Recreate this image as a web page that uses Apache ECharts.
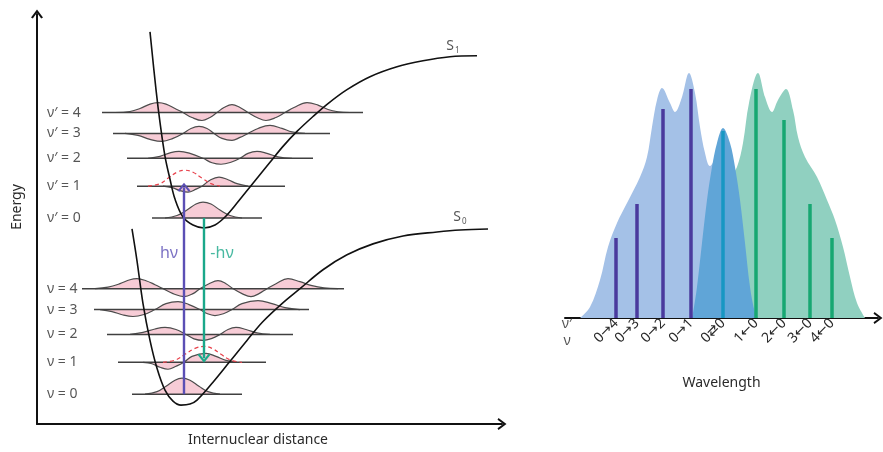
<!DOCTYPE html>
<html><head><meta charset="utf-8">
<script src="https://cdn.jsdelivr.net/npm/echarts@6/dist/echarts.min.js"></script>
<style>html,body{margin:0;padding:0;background:#fff}#c{width:883px;height:452px}</style>
</head><body><div id="c"></div>
<script>
// ---------- Left panel: potential energy curves [internuclear distance, energy] ----------
const s1Curve = [[113,394],[119,336],[123,303],[128,269],[133,246],[138,226],[146,208],[156,200],[167,197],[178,200],[188,208],[200,222],[216,242],[233,263],[246,279],[260,294],[276,309],[291,322],[310,336],[333,349],[360,359],[386,365],[413,369],[440,370]];
const s0Curve = [[95,196],[100,164],[106,121],[113,84],[120,56],[128,34],[136,23],[144,19],[153,20],[160,24],[176,42],[193,63],[210,84],[226,103],[245,121],[263,136],[286,155],[310,170],[336,181],[366,189],[400,193],[423,195],[451,196]];

// vibrational levels (v'=4..0 and v=4..0)
const excitedNames = ['ν′ = 4', 'ν′ = 3', 'ν′ = 2', 'ν′ = 1', 'ν′ = 0'];
const excitedEnergy = [313, 292, 267, 239, 207];
const excitedSpan = [[65, 326], [76, 293], [90, 276], [100, 248], [115, 225]];
const groundNames = ['ν = 4', 'ν = 3', 'ν = 2', 'ν = 1', 'ν = 0'];
const groundEnergy = [136, 115, 90, 62, 30];
const groundSpan = [[45, 307], [57, 272], [70, 256], [81, 229], [95, 205]];

// vibrational wavefunctions [distance, amplitude about the level]
const psiUp4 = [[78,0],[93,1],[103,4],[113,8.5],[121,10],[129,8.5],[138,4],[146,0],[155,-5],[165,-8],[173,-5],[180,0],[187,5],[195,8],[203,5],[211,0],[220,-5],[229,-8],[239,-5],[248,0],[257,5],[270,10],[281,7.5],[291,3],[301,0.8],[313,0]];
const psiUp3 = [[88,0],[101,-2],[113,-6],[125,-8],[136,-5],[146,0],[154,5],[162,7],[170,5],[177,0],[185,-5],[195,-7],[203,-4],[211,0],[221,5],[233,8],[245,5],[255,1.5],[268,0]];
const psiUp2 = [[111,0],[123,2],[133,5.5],[142,7],[153,5],[166,0],[175,-4.5],[184,-6],[194,-4],[203,0],[211,5],[220,7],[230,5],[241,1.5],[255,0]];
const psiUp1 = [[126,0],[135,-1.5],[143,-4.5],[151,-6],[159,-3],[165,0],[173,6],[182,9],[191,6.5],[200,2.5],[211,0]];
const psiUp0 = [[128,0],[140,2.5],[150,8],[159,14],[166,16],[174,14],[183,8],[193,2.5],[205,0]];
const psiLo4 = [[58,0],[71,1.5],[83,5],[93,9],[100,10],[109,8],[118,4],[126,0],[136,-5],[147,-8],[156,-5],[163,0],[172,5],[181,8],[189,5],[196,0],[205,-5],[214,-8],[222,-5],[230,0],[239,5],[251,10],[263,7],[275,3],[287,0.8],[301,0]];
const psiLo3 = [[63,0],[75,-2],[86,-5.5],[96,-7],[107,-5],[118,0],[129,6],[141,8],[152,5],[163,0],[170,-4],[178,-6],[187,-4],[195,0],[205,6],[221,9],[235,6],[248,2],[263,0]];
const psiLo2 = [[93,0],[106,2],[118,5.5],[128,7],[139,5],[149,0],[157,-4.5],[166,-6],[175,-4],[183,0],[191,5],[199,7],[209,5],[220,1.5],[233,0]];
const psiLo1 = [[106,0],[115,-1.5],[123,-5],[131,-7],[139,-4],[147,0],[155,6],[169,9],[179,6],[189,2],[200,0]];
const psiLo0 = [[108,0],[120,2.5],[129,8],[138,14],[145,16],[153,14],[162,8],[171,2.5],[183,0]];
// Franck-Condon projections (dashed)
const fcUp1 = [[111,0],[123,2.5],[131,8],[140,14],[148,16],[156,14],[165,8],[174,2.5],[183,0]];
const fcLo1 = [[126,0],[139,2.5],[148,8],[158,14],[167,16],[175,14],[184,8],[193,2.5],[205,0]];

const absorptionArrow = [[147, 30], [147, 238]];
const emissionArrow = [[167, 207], [167, 66]];
const photonLabels = ['hν', '-hν'];
const photonLabelPos = [[132, 171], [185, 171]];
const stateNames = ['1', '0'];
const stateLabelPos = [[416, 380], [423, 208]];

// ---------- Right panel: spectrum [wavelength, intensity] ----------
const transitions = ['0→4', '0→3', '0→2', '0→1', '0⇄0', '1←0', '2←0', '3←0', '4←0'];
const transitionPos = [51, 72, 98, 126, 158, 191, 219, 245, 267];
const transitionIntensity = [80, 114, 209, 229, 187, 229, 198, 114, 80];
const absorptionEnvelope = [[15,0],[25,11],[35,38],[43,71],[52,95],[62,115],[75,141],[82,161],[87,191],[92,218],[97,230],[105,215],[110,206],[117,221],[124,245],[130,225],[135,191],[140,165],[145,152],[152,160],[160,140],[166,0]];
const emissionEnvelope = [[158,120],[165,140],[172,151],[178,175],[184,215],[193,245],[200,221],[207,206],[213,218],[221,229],[228,208],[233,181],[240,161],[252,141],[262,118],[270,98],[278,71],[285,41],[292,15],[300,0]];
const originBand = [[127,0],[128,5],[132,31],[137,75],[142,118],[147,151],[152,175],[158,190],[165,175],[170,151],[175,118],[180,75],[185,31],[190,5],[193,0]];
const quantumRowLabels = ['ν′', 'ν'];
const quantumRowPos = [[2, -6], [2, -23]];

// ---------- styles ----------
const FONT = '"Noto Sans", "DejaVu Sans", sans-serif';
const TXT = '#2a2a2a';
const chevron = 'path://M0,8 L6,0 L12,8 L10.2,9 L6,3.2 L1.8,9 Z';
const purple = '#5b4fb5', green = '#1aa88a';

const series = [];
const L = { xAxisIndex: 0, yAxisIndex: 0 };
const R = { xAxisIndex: 1, yAxisIndex: 1 };

function wave(pts, E) {
  series.push(Object.assign({
    type: 'line', data: pts.map(p => [p[0], E + p[1]]), smooth: 0.4, symbol: 'none',
    lineStyle: { color: '#4d4d4d', width: 1.2 },
    areaStyle: { color: '#f7ccd6', opacity: 1, origin: E }, silent: true, z: 1
  }, L));
}
const upWaves = [psiUp4, psiUp3, psiUp2, psiUp1, psiUp0];
const loWaves = [psiLo4, psiLo3, psiLo2, psiLo1, psiLo0];
upWaves.forEach((w, i) => wave(w, excitedEnergy[i]));
loWaves.forEach((w, i) => wave(w, groundEnergy[i]));

function level(span, E) {
  series.push(Object.assign({
    type: 'line', data: [[span[0], E], [span[1], E]], symbol: 'none',
    lineStyle: { color: '#404040', width: 1.5 }, silent: true, z: 2
  }, L));
}
excitedSpan.forEach((s, i) => level(s, excitedEnergy[i]));
groundSpan.forEach((s, i) => level(s, groundEnergy[i]));

[fcUp1, fcLo1].forEach((pts, k) => {
  const E = k === 0 ? excitedEnergy[3] : groundEnergy[3];
  series.push(Object.assign({
    type: 'line', data: pts.map(p => [p[0], E + p[1]]), smooth: 0.4, symbol: 'none',
    lineStyle: { color: '#e8424c', width: 1.2, type: [4, 3] }, silent: true, z: 3
  }, L));
});

[s1Curve, s0Curve].forEach((c) => {
  series.push(Object.assign({
    type: 'line', data: c, smooth: 0.35, symbol: 'none',
    lineStyle: { color: '#111', width: 1.6 }, silent: true, z: 3
  }, L));
});

function arrow(pts, color, rot) {
  series.push(Object.assign({
    type: 'line', silent: true, z: 4,
    data: [{ value: pts[0], symbol: 'none' }, { value: pts[1], symbol: chevron, symbolSize: [13, 9], symbolRotate: rot }],
    showSymbol: true, lineStyle: { color: color, width: 2.4 },
    itemStyle: { color: color, borderWidth: 0 }
  }, L));
}
arrow(absorptionArrow, purple, 0);
arrow(emissionArrow, green, 180);

// text annotations left
const levelLabelData = excitedNames.map((n, i) => ({ value: [10, excitedEnergy[i]], label: { formatter: n } }))
  .concat(groundNames.map((n, i) => ({ value: [10, groundEnergy[i]], label: { formatter: n } })));
series.push(Object.assign({
  type: 'scatter', symbolSize: 0, silent: true, z: 5, clip: false, data: levelLabelData,
  label: { show: true, position: 'right', distance: 0, fontFamily: FONT, fontSize: 14, color: TXT }
}, L));
series.push(Object.assign({
  type: 'scatter', symbolSize: 0, silent: true, z: 5, clip: false,
  data: photonLabels.map((t, i) => ({ value: photonLabelPos[i], label: { formatter: t, color: i === 0 ? purple : green } })),
  label: { show: true, position: 'inside', fontFamily: FONT, fontSize: 16 }
}, L));
series.push(Object.assign({
  type: 'scatter', symbolSize: 0, silent: true, z: 5, clip: false,
  data: stateNames.map((t, i) => ({ value: stateLabelPos[i], label: { formatter: '{a|S}{b|' + t + '}' } })),
  label: { show: true, position: 'inside', fontFamily: FONT,
    rich: { a: { fontSize: 14, color: TXT, fontFamily: FONT }, b: { fontSize: 8, color: TXT, fontFamily: FONT, padding: [9, 0, 0, 1] } } }
}, L));

// right panel
const envStyle = (data, color) => Object.assign({
  type: 'line', data: data, smooth: 0.35, symbol: 'none', lineStyle: { width: 0 },
  areaStyle: { color: color, opacity: 1 }, silent: true, z: 1
}, R);
series.push(envStyle(absorptionEnvelope, '#a4c1e7'));
series.push(envStyle(emissionEnvelope, '#90d0c0'));
series.push(envStyle(originBand, '#60a5d7'));
const barColors = transitions.map((t, i) => i < 4 ? '#4a3a9d' : (i === 4 ? '#1797c3' : '#17a772'));
transitionPos.forEach((x, i) => {
  series.push(Object.assign({
    type: 'line', symbol: 'none', silent: true, z: 3,
    data: [[x, 0], [x, transitionIntensity[i]]],
    lineStyle: { color: barColors[i], width: 3.5, cap: 'butt' }
  }, R));
});
series.push(Object.assign({
  type: 'scatter', symbolSize: 0, silent: true, clip: false, z: 5,
  data: quantumRowLabels.map((t, i) => ({ value: quantumRowPos[i], label: { formatter: t } })),
  label: { show: true, position: 'inside', fontFamily: FONT, fontSize: 14, color: TXT }
}, R));

const axisLineStyle = { show: true, symbol: ['none', chevron], symbolSize: [12, 9], lineStyle: { color: '#111', width: 2 } };
const option = {
  animation: false,
  backgroundColor: '#fff',
  textStyle: { fontFamily: FONT },
  grid: [
    { left: 37, top: 14, width: 465, height: 412 },
    { left: 565, top: 68, width: 313, height: 250 }
  ],
  xAxis: [
    { type: 'value', gridIndex: 0, min: 0, max: 465, axisLine: axisLineStyle, axisTick: { show: false },
      axisLabel: { show: false }, splitLine: { show: false },
      name: 'Internuclear distance', nameLocation: 'middle', nameGap: 9,
      nameTextStyle: { fontFamily: FONT, fontSize: 14, color: TXT, padding: [0, 23, 0, 0] } },
    { type: 'value', gridIndex: 1, min: 0, max: 313, axisLine: axisLineStyle, axisTick: { show: false },
      splitLine: { show: false },
      axisLabel: { customValues: transitionPos, formatter: v => transitions[transitionPos.indexOf(v)] || '',
        rotate: 45, margin: 3, fontFamily: FONT, fontSize: 14, color: TXT },
      name: 'Wavelength', nameLocation: 'middle', nameGap: 58,
      nameTextStyle: { fontFamily: FONT, fontSize: 14, color: TXT } }
  ],
  yAxis: [
    { type: 'value', gridIndex: 0, min: 0, max: 412, axisLine: axisLineStyle, axisTick: { show: false },
      axisLabel: { show: false }, splitLine: { show: false },
      name: 'Energy', nameLocation: 'middle', nameGap: 13, nameRotate: 90,
      nameTextStyle: { fontFamily: FONT, fontSize: 14, color: TXT, padding: [0, 0, 0, 24] } },
    { type: 'value', gridIndex: 1, min: 0, max: 250, show: false }
  ],
  series: series
};
const chart = echarts.init(document.getElementById('c'), null, { renderer: 'canvas' });
chart.setOption(option);
</script>
</body></html>
